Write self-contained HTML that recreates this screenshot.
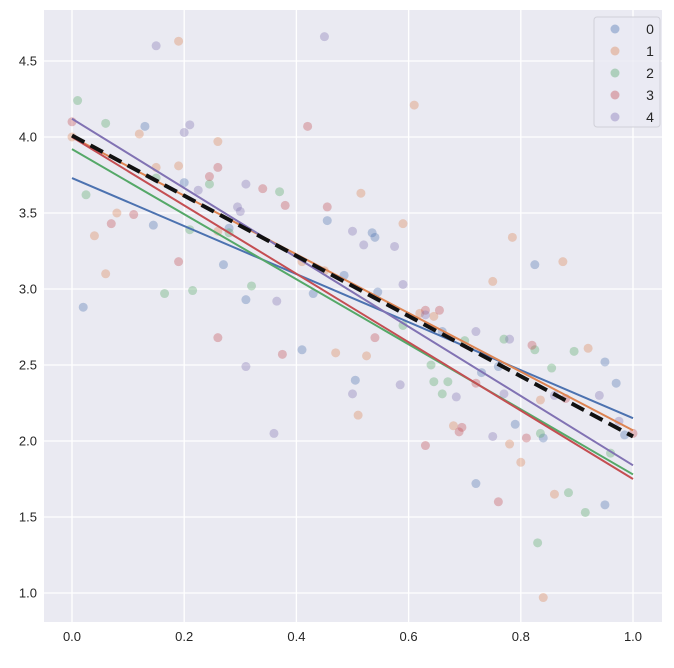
<!DOCTYPE html>
<html><head><meta charset="utf-8"><style>
body{margin:0;background:#fff;font-family:"Liberation Sans",sans-serif}
</style></head><body>
<svg id="chart" width="674" height="663" xmlns="http://www.w3.org/2000/svg">
<rect x="44" y="10" width="618" height="612" fill="#eaeaf2"/>
<g id="grid"></g><g id="ticks"></g><g id="pts"></g><g id="lines"></g><g id="legend"></g>
</svg>
<script>
const xTicks=[0,0.2,0.4,0.6,0.8,1.0];
const yTicks=[1.0,1.5,2.0,2.5,3.0,3.5,4.0,4.5];
const colors=["#4c72b0","#dd8452","#55a868","#c44e52","#8172b3"];
const groupLabels=["0","1","2","3","4"];
const g0=[[0.02,2.88],[0.13,4.07],[0.145,3.42],[0.2,3.7],[0.27,3.16],[0.31,2.93],[0.28,3.4],[0.43,2.97],[0.41,2.6],[0.455,3.45],[0.485,3.09],[0.505,2.4],[0.535,3.37],[0.54,3.34],[0.545,2.98],[0.72,1.72],[0.73,2.45],[0.76,2.49],[0.79,2.11],[0.825,3.16],[0.84,2.02],[0.95,2.52],[0.95,1.58],[0.97,2.38],[0.985,2.04],[0.66,2.72]];
const g1=[[0.0,4.0],[0.04,3.35],[0.06,3.1],[0.08,3.5],[0.12,4.02],[0.15,3.8],[0.19,3.81],[0.19,4.63],[0.26,3.97],[0.26,3.38],[0.41,3.18],[0.45,3.12],[0.47,2.58],[0.51,2.17],[0.515,3.63],[0.525,2.56],[0.59,3.43],[0.61,4.21],[0.62,2.84],[0.68,2.1],[0.75,3.05],[0.78,1.98],[0.785,3.34],[0.8,1.86],[0.84,0.97],[0.86,1.65],[0.875,3.18],[0.92,2.61],[0.835,2.27],[0.645,2.82]];
const g2=[[0.01,4.24],[0.025,3.62],[0.06,4.09],[0.15,3.73],[0.165,2.97],[0.21,3.39],[0.215,2.99],[0.245,3.69],[0.28,3.37],[0.32,3.02],[0.37,3.64],[0.59,2.76],[0.64,2.5],[0.645,2.39],[0.66,2.31],[0.67,2.39],[0.7,2.66],[0.77,2.67],[0.825,2.6],[0.83,1.33],[0.835,2.05],[0.855,2.48],[0.885,1.66],[0.895,2.59],[0.915,1.53],[0.96,1.92]];
const g3=[[0.0,4.1],[0.07,3.43],[0.11,3.49],[0.19,3.18],[0.245,3.74],[0.26,3.8],[0.26,2.68],[0.34,3.66],[0.375,2.57],[0.38,3.55],[0.42,4.07],[0.455,3.54],[0.54,2.68],[0.63,1.97],[0.63,2.86],[0.655,2.86],[0.69,2.06],[0.695,2.09],[0.72,2.38],[0.76,1.6],[0.81,2.02],[0.82,2.63],[0.88,2.28],[1.0,2.05]];
const g4=[[0.15,4.6],[0.2,4.03],[0.21,4.08],[0.225,3.65],[0.31,3.69],[0.3,3.51],[0.295,3.54],[0.36,2.05],[0.365,2.92],[0.45,4.66],[0.5,3.38],[0.52,3.29],[0.5,2.31],[0.575,3.28],[0.59,3.03],[0.585,2.37],[0.63,2.83],[0.685,2.29],[0.72,2.72],[0.75,2.03],[0.77,2.31],[0.78,2.67],[0.86,2.3],[0.94,2.3],[0.975,2.13],[0.31,2.49]];
const groups=[g0,g1,g2,g3,g4];
const intercepts=[3.73,4.0,3.92,4.0,4.12];
const endValues=[2.15,2.07,1.78,1.75,1.84];
const overallLine=[4.01,2.03];
const NS="http://www.w3.org/2000/svg";
const X=v=>72+v*561, Y=v=>61+(4.5-v)*152;
function mk(t,a,p){const e=document.createElementNS(NS,t);for(const k in a)e.setAttribute(k,a[k]);p.appendChild(e);return e;}
const grid=document.getElementById('grid'),ticks=document.getElementById('ticks');
xTicks.forEach(t=>{
 const l=mk('line',{x1:X(t),x2:X(t),y1:10,y2:622,stroke:'#fff','stroke-width':1.3},grid);
 
 
 const tx=mk('text',{x:X(t),y:641,'text-anchor':'middle','font-size':13,fill:'#262626'},ticks);tx.textContent=t.toFixed(1);
 
 
});
yTicks.forEach(t=>{
 const l=mk('line',{x1:44,x2:662,y1:Y(t),y2:Y(t),stroke:'#fff','stroke-width':1.3},grid);
 
 
 const tx=mk('text',{x:37,y:Y(t)+4.5,'text-anchor':'end','font-size':13,fill:'#262626'},ticks);tx.textContent=t.toFixed(1);
 
 
});
const pts=document.getElementById('pts');
groups.forEach((g,i)=>g.forEach(p=>{
 const c=mk('circle',{cx:X(p[0]),cy:Y(p[1]),r:4.5,fill:colors[i],'fill-opacity':0.35},pts);
 
 
}));
const lines=document.getElementById('lines');
intercepts.forEach((b,i)=>{
 const l=mk('line',{x1:X(0),y1:Y(b),x2:X(1),y2:Y(endValues[i]),stroke:colors[i],'stroke-width':2},lines);
 
 
});
const ol=mk('line',{x1:X(0),y1:Y(overallLine[0]),x2:X(1),y2:Y(overallLine[1]),stroke:'#111','stroke-width':4,'stroke-dasharray':'14,7'},lines);


const lg=document.getElementById('legend');
const box=mk('rect',{x:594,y:17,width:66,height:110,rx:3,fill:'#eaeaf2','fill-opacity':0.8,stroke:'#d0d0d8'},lg);


groupLabels.forEach((s,i)=>{
 const y=29+i*22;
 const c=mk('circle',{cx:615,cy:y,r:4.5,fill:colors[i],'fill-opacity':0.4},lg);
 
 
 const t=mk('text',{x:650,y:y+5,'text-anchor':'middle','font-size':14,fill:'#262626'},lg);t.textContent=s;
 
 
});
</script>
</body></html>
